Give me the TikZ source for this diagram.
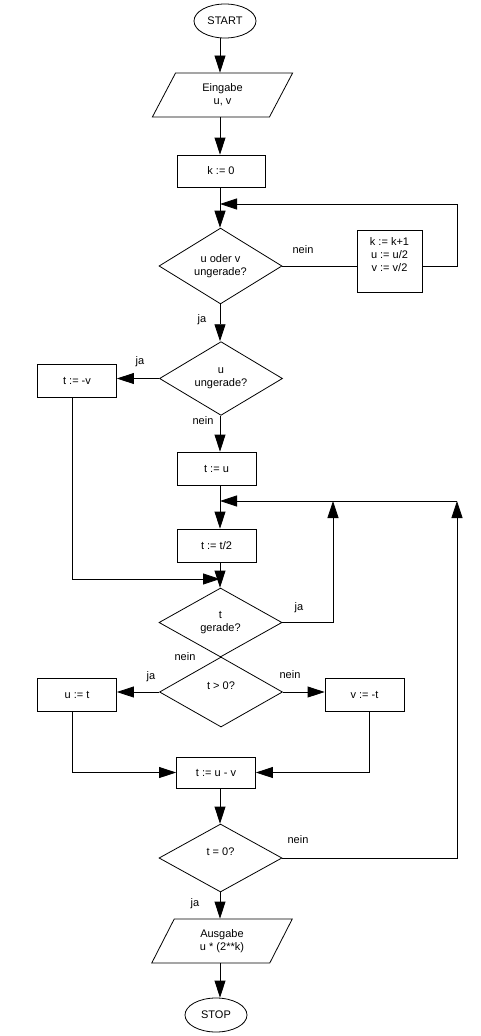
\documentclass[tikz,border=0pt]{standalone}
\usepackage{fontspec}
\setmainfont{Liberation Sans}
\usetikzlibrary{arrows.meta,shapes.geometric}

\begin{document}
\begin{tikzpicture}[x=1pt,y=-1pt,line width=0.8pt,font=\fontsize{11}{13}\selectfont]
	\useasboundingbox (0,0) rectangle (480,1036);
	\coordinate (ax) at (220,0);
	\coordinate (links) at (72,0);
	\coordinate (rechts) at (369,0);
	\coordinate (s1) at (457,204);
	\coordinate (s2) at (333,501);
	\coordinate (s3) at (457,501);
	\coordinate (knoten) at (220,579);
	% start / stop
	\begin{scope}[every node/.style={ellipse,draw,minimum width=62pt,minimum height=34pt,inner sep=0pt}]
		\node (start) at (225,21) {START};
		\node (stop) at (216,1015) {STOP};
	\end{scope}
	% ein- und ausgabe
	\begin{scope}[every node/.style={trapezium,trapezium left angle=66,trapezium right angle=114,trapezium stretches=true,draw,align=center,minimum width=141pt,minimum height=44pt,inner sep=0pt}]
		\node (eingabe) at (222.5,95) {Eingabe\\u, v};
		\node (ausgabe) at (222,941) {Ausgabe\\u * (2**k)};
	\end{scope}
	% anweisungen
	\begin{scope}[every node/.style={rectangle,draw,align=center,minimum width=79pt,minimum height=33pt,inner sep=0pt}]
		\node[minimum width=88pt,minimum height=32pt] (kzero) at (221,171) {k := 0};
		\node[minimum width=65pt,minimum height=62pt] (kbox) at (389.5,261) {k := k+1\\u := u/2\\v := v/2\\\mbox{}};
		\node (tmv) at (77,380.5) {t := -v};
		\node (tu) at (216.5,468.5) {t := u};
		\node (thalb) at (216.5,545.5) {t := t/2};
		\node (ut) at (77,694.5) {u := t};
		\node (vt) at (364.5,694.5) {v := -t};
		\node[minimum height=31pt] (tuv) at (216,772.5) {t := u - v};
	\end{scope}
	% entscheidungen
	\begin{scope}[every node/.style={diamond,draw,align=center,minimum width=123pt,minimum height=67pt,inner sep=0pt}]
		\node (ud) at (220.5,266) {u oder v\\ungerade?};
		\node (uung) at (221,378.5) {u\\ungerade?};
		\node[minimum height=69pt] (tger) at (220.5,622.5) {t\\gerade?};
		\node[minimum height=70pt] (tgt) at (221,692) {t > 0?\\\mbox{}};
		\node[minimum height=68pt] (tnull) at (220.5,858) {t = 0?\\\mbox{}};
	\end{scope}
	% beschriftungen
	\begin{scope}[every node/.style={inner sep=0pt}]
		\node (nein1) at (303,250) {nein};
		\node (ja1) at (202,320) {ja};
		\node (ja2) at (140,362) {ja};
		\node (nein2) at (203,421) {nein};
		\node (ja3) at (299,608) {ja};
		\node (nein3) at (185,657) {nein};
		\node (ja4) at (151,677) {ja};
		\node (nein4) at (290,675) {nein};
		\node (nein5) at (298,840) {nein};
		\node (ja5) at (195,904) {ja};
	\end{scope}
	% verbindungen
	\begin{scope}[>={Triangle[length=17pt,width=11pt]}]
		\draw[->] (start.south -| ax) -- (eingabe.north -| ax);
		\draw[->] (eingabe.south -| ax) -- (kzero.north -| ax);
		\draw[->] (kzero.south -| ax) -- (ud.north -| ax);
		\draw (ud.east) -- (kbox.west |- ud.east);
		\draw[->] (kbox.east |- ud.east) -| (s1) -- (ax |- s1);
		\draw[->] (ud.south -| ax) -- (uung.north -| ax);
		\draw[->] (uung.west) -- (tmv.east |- uung.west);
		\draw[->] (uung.south -| ax) -- (tu.north -| ax);
		\draw[->] (tu.south -| ax) -- (thalb.north -| ax);
		\draw[->] (thalb.south -| ax) -- (tger.north -| ax);
		\draw[->] (tmv.south -| links) |- (knoten);
		\draw[->] (tger.east) -| (s2);
		\draw[->] (tgt.west) -- (ut.east |- tgt.west);
		\draw[->] (tgt.east) -- (vt.west |- tgt.east);
		\draw[->] (ut.south -| links) |- (tuv.west);
		\draw[->] (vt.south -| rechts) |- (tuv.east);
		\draw[->] (tuv.south -| ax) -- (tnull.north -| ax);
		\draw[->] (tnull.east) -| (s3);
		\draw[->] (s3) -- (ax |- s3);
		\draw[->] (tnull.south -| ax) -- (ausgabe.north -| ax);
		\draw[->] (ausgabe.south -| ax) -- (stop.north -| ax);
	\end{scope}
\end{tikzpicture}
\end{document}
